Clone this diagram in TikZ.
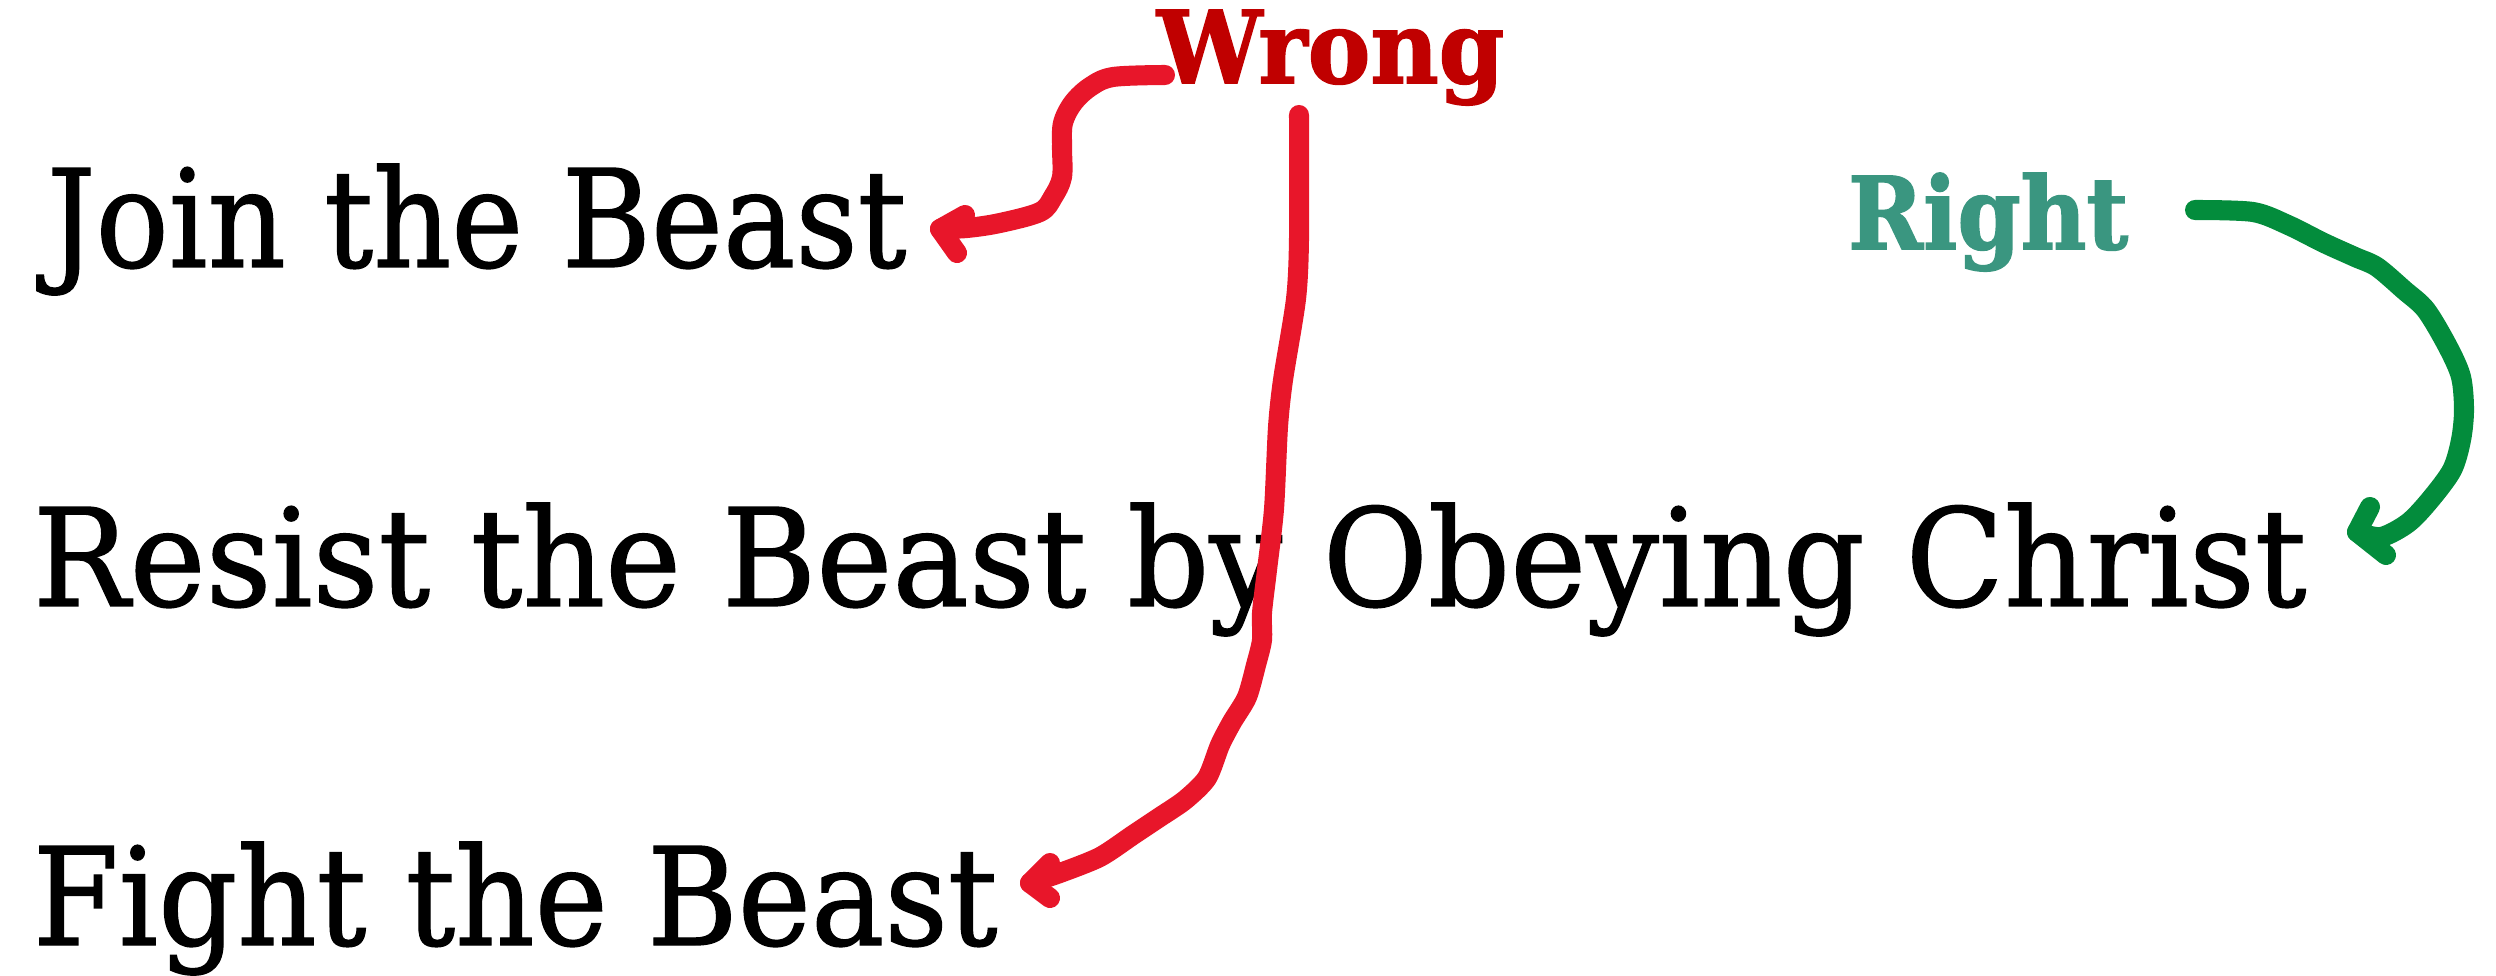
\documentclass[tikz,border=0pt]{standalone}
\usepackage{fontspec}
\setmainfont{DejaVu Serif}
\newfontfamily\mainf[FakeBold=1.0]{DejaVu Serif}
\newfontfamily\tagf[FakeBold=1.6]{DejaVu Serif Bold}
\usepackage{graphicx}
\definecolor{wrongred}{RGB}{192,0,0}
\definecolor{rightteal}{RGB}{58,150,128}
\definecolor{arrred}{RGB}{232,22,42}
\definecolor{arrgreen}{RGB}{3,140,60}
\tikzset{
  labeltext/.style={anchor=base west, inner sep=0pt, outer sep=0pt},
  bigtext/.style={labeltext, font=\mainf\fontsize{38.6}{40}\selectfont},
  tagtext/.style={labeltext, font=\tagf\fontsize{28.5}{30}\selectfont},
  stroke/.style={line width=5.7pt, line cap=round, line join=round},
}
\begin{document}
\begin{tikzpicture}[x=0.01cm,y=-0.01cm]
\useasboundingbox (0,0) rectangle (2496,976);
\node[bigtext] (join) at (47,267) {\resizebox{8.59cm}{\height}{Join the Beast}};
\node[bigtext] (resist) at (33,606) {\resizebox{22.72cm}{\height}{Resist the Beast by Obeying Christ}};
\node[bigtext] (fight) at (33,945) {\resizebox{9.64cm}{\height}{Fight the Beast}};
\node[tagtext, text=wrongred] (wrong) at (1157,83) {\resizebox{3.47cm}{\height}{Wrong}};
\node[tagtext, text=rightteal] (right) at (1848,249) {\resizebox{2.80cm}{\height}{Right}};

% arrow from Wrong to Join the Beast
\coordinate (w1s) at (1165,75);
\coordinate (w1t) at (940,229);
\draw[stroke, arrred] plot[smooth, tension=0.55] coordinates {(w1s) (1113,77) (1090,87) (1073,103) (1063,123) (1062,147) (1062,177) (1053,197) (1040,212) (1000,223) (967,228) (w1t)};
\draw[stroke, arrred] (965,215) -- (w1t) -- (957,253);

% arrow from Wrong to Fight the Beast
\coordinate (w2s) at (1299,115);
\coordinate (w2t) at (1030,883);
\draw[stroke, arrred] plot[smooth, tension=0.45] coordinates {(w2s) (1299,239) (1296,299) (1283,380) (1278,427) (1274,509) (1267,570) (1262,613) (1262,640) (1256,665) (1247,697) (1232,722) (1220,745) (1207,778) (1185,800) (1160,817) (1133,835) (1100,857) (1060,873) (w2t)};
\draw[stroke, arrred] (1050,863) -- (w2t) -- (1050,898);

% arrow from Right to Resist
\coordinate (r1s) at (2195,210);
\coordinate (r1t) at (2357,532);
\draw[stroke, arrgreen] plot[smooth, tension=0.5] coordinates {(r1s) (2253,212) (2288,225) (2324,243) (2355,257) (2377,267) (2404,290) (2426,310) (2448,347) (2461,377) (2464,410) (2461,440) (2452,470) (2430,500) (2408,523) (2381,537) (r1t)};
\draw[stroke, arrgreen] (2370,507) -- (r1t) -- (2386,555);
\end{tikzpicture}
\end{document}
